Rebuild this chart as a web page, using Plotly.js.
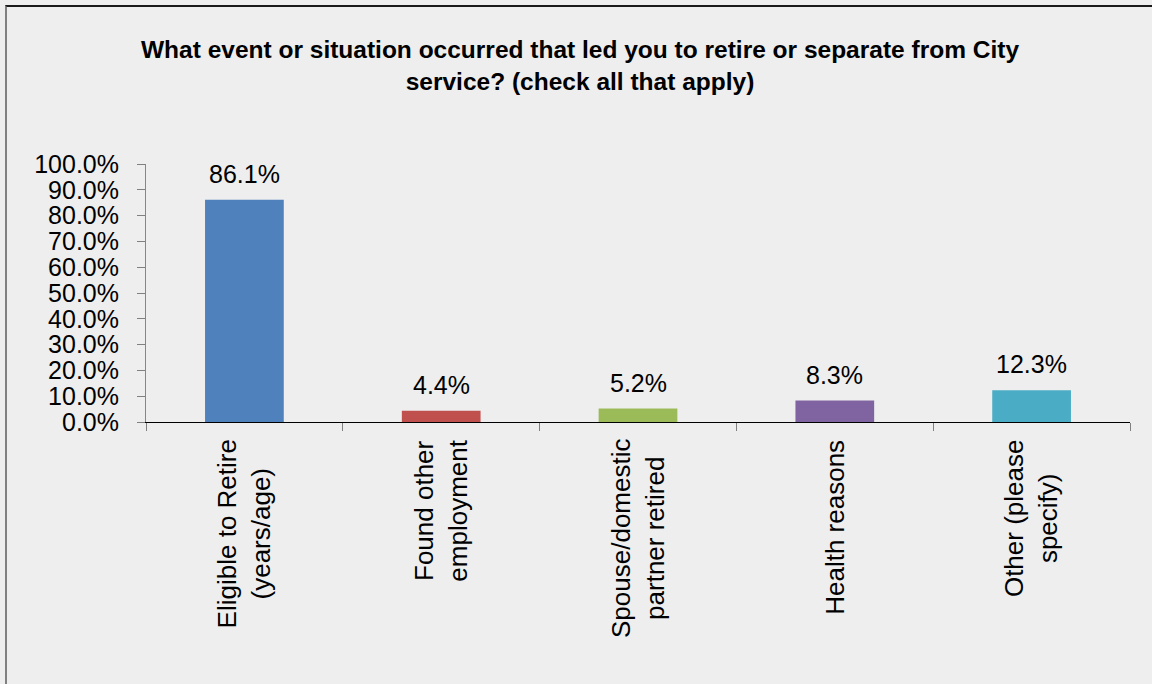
<!DOCTYPE html>
<html>
<head>
<meta charset="utf-8">
<script src="https://cdn.plot.ly/plotly-3.0.1.min.js"></script>
<style>
  html, body { margin: 0; padding: 0; background: #eeeeee; }
  #chart { position: absolute; left: 0; top: 0; width: 1152px; height: 684px; }
  #frame { position: absolute; left: 5px; top: 5px; width: 1147px; height: 679px;
           border-left: 2px solid #808080; border-top: 2px solid #1a1a1a;
           pointer-events: none; box-sizing: border-box; }
</style>
</head>
<body>
<div id="chart"></div>
<div id="frame"></div>
<script>
const categories = [
  "Eligible to Retire<br>(years/age)",
  "Found other<br>employment",
  "Spouse/domestic<br>partner retired",
  "Health reasons",
  "Other (please<br>specify)"
];
const values = [86.1, 4.4, 5.2, 8.3, 12.3];
const valueLabels = ["86.1%", "4.4%", "5.2%", "8.3%", "12.3%"];
const barColors = ["#4F81BD", "#C0504D", "#9BBB59", "#8064A2", "#4BACC6"];
const yTickValues = [0, 10, 20, 30, 40, 50, 60, 70, 80, 90, 100];
const yTickLabels = ["0.0%", "10.0%", "20.0%", "30.0%", "40.0%", "50.0%", "60.0%", "70.0%", "80.0%", "90.0%", "100.0%"];

const font = "Liberation Sans, Arial, Helvetica, sans-serif";
const xIdx = categories.map((c, i) => i);

const trace = {
  type: "bar",
  x: xIdx,
  y: values,
  marker: { color: barColors },
  hoverinfo: "skip",
  showlegend: false
};

const annotations = [];
values.forEach((v, i) => {
  annotations.push({
    x: i, y: v, xref: "x", yref: "y",
    text: valueLabels[i], showarrow: false,
    xanchor: "center", yanchor: "bottom", yshift: 10,
    font: { family: font, size: 25, color: "#000000" }
  });
});
categories.forEach((c, i) => {
  annotations.push({
    x: i, y: -0.06, xref: "x", yref: "paper",
    text: c, showarrow: false, textangle: -90, align: "center",
    xanchor: "center", yanchor: "top",
    font: { family: font, size: 26, color: "#000000" }
  });
});

const layout = {
  width: 1152, height: 684,
  paper_bgcolor: "#eeeeee",
  plot_bgcolor: "#eeeeee",
  margin: { l: 146, r: 22, t: 164, b: 262, pad: 0 },
  title: {
    text: "What event or situation occurred that led you to retire or separate from City<br>service? (check all that apply)",
    font: { family: font, size: 24.5, color: "#000000", weight: "bold" },
    x: 580 / 1152, xanchor: "center", xref: "container",
    y: 1 - 58 / 684, yanchor: "top", yref: "container"
  },
  bargap: 0.6,
  xaxis: {
    type: "linear",
    range: [-0.5, 4.5],
    tickmode: "array",
    tickvals: [-0.5, 0.5, 1.5, 2.5, 3.5, 4.5],
    showticklabels: false,
    ticks: "outside", ticklen: 8, tickcolor: "#808080", tickwidth: 1,
    showline: true, linecolor: "#000000", linewidth: 1,
    showgrid: false, zeroline: false, fixedrange: true
  },
  yaxis: {
    range: [0, 100],
    tickmode: "array",
    tickvals: yTickValues,
    ticktext: yTickLabels,
    ticks: "outside", ticklen: 8, tickcolor: "#808080", tickwidth: 1,
    ticklabelstandoff: 13,
    showline: true, linecolor: "#868686", linewidth: 1,
    showgrid: false, zeroline: false, fixedrange: true,
    tickfont: { family: font, size: 25, color: "#000000" }
  },
  annotations: annotations
};

Plotly.newPlot("chart", [trace], layout, { displayModeBar: false, staticPlot: true });
</script>
</body>
</html>
